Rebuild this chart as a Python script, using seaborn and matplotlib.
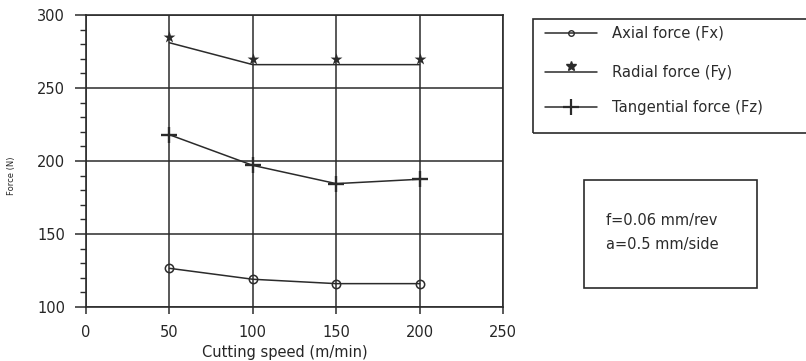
import numpy as np
import pandas as pd
import seaborn as sns
import matplotlib.pyplot as plt
from matplotlib.lines import Line2D
from matplotlib.ticker import MultipleLocator

# Data
speed = [50, 100, 150, 200]
axial = [126.5, 119, 116, 116]
radial_pts = [285, 270, 270, 270]
radial_line = [281, 266, 266, 266]
tangential = [218, 197, 184.5, 187.5]
labels = ["Axial force (Fx)", "Radial force (Fy)", "Tangential force (Fz)"]

sns.set_style("white")
plt.rcParams['font.family'] = ['DejaVu Sans']

ink = "#2b2b2b"
W, H = 806, 361
fig = plt.figure(figsize=(8.06, 3.61), dpi=100)
ax = fig.add_axes([86 / W, 1 - 307 / H, (503 - 86) / W, (307 - 15) / H])

df = pd.DataFrame({"speed": speed, "axial": axial, "radial_pts": radial_pts,
                   "radial_line": radial_line, "tangential": tangential})

sns.lineplot(data=df, x="speed", y="axial", ax=ax, color=ink, lw=1.1,
             marker="o", markersize=6, markerfacecolor="none",
             markeredgecolor=ink, markeredgewidth=1.1)
sns.lineplot(data=df, x="speed", y="radial_line", ax=ax, color=ink, lw=1.1)
sns.scatterplot(data=df, x="speed", y="radial_pts", ax=ax, color=ink,
                marker="*", s=80, linewidth=0)
sns.lineplot(data=df, x="speed", y="tangential", ax=ax, color=ink, lw=1.1,
             marker="+", markersize=11, markeredgewidth=1.7, markeredgecolor=ink)

ax.set_xlim(0, 250)
ax.set_ylim(100, 300)
ax.set_xticks([0, 50, 100, 150, 200, 250])
ax.set_yticks([100, 150, 200, 250, 300])
ax.yaxis.set_minor_locator(MultipleLocator(10))
ax.grid(True, which="major", color=ink, lw=1.1)
for s in ax.spines.values():
    s.set_color(ink)
    s.set_linewidth(1.2)
ax.tick_params(axis="y", which="major", direction="out", length=8, width=1.1,
               color=ink, labelsize=10.5, left=True, pad=7)
ax.tick_params(axis="y", which="minor", direction="out", length=4, width=1,
               color=ink, left=True)
ax.tick_params(axis="x", which="major", direction="out", length=5, width=1.1,
               color=ink, labelsize=10.5, bottom=True, pad=8)
ax.set_xlabel("Cutting speed (m/min)", fontsize=10.5)
ax.xaxis.set_label_coords((285 - 86) / 417, -(352 - 307) / 292)
ax.xaxis.label.set_va("center")
ax.set_ylabel("Force (N)", fontsize=6)
ax.yaxis.set_label_coords(-(86 - 12) / 417, (307 - 176) / 292)
ax.yaxis.label.set_va("center")

# legend box, drawn by hand so it matches the scanned layout
fig.patches.append(plt.Rectangle((533 / W, 1 - 133 / H), (812 - 533) / W, (133 - 19) / H,
                                 transform=fig.transFigure, fill=False,
                                 edgecolor=ink, lw=1.2))
rows = [33, 72, 107]
styles = [dict(marker="o", markersize=4, markerfacecolor="none", markeredgecolor=ink),
          dict(marker="*", markersize=7),
          dict(marker="+", markersize=12, markeredgewidth=1.6)]
for yy, lab, st in zip(rows, labels, styles):
    yf = 1 - yy / H
    fig.add_artist(Line2D([545 / W, 597 / W], [yf, yf], transform=fig.transFigure,
                          color=ink, lw=1.1))
    mk_y = yf + (6 / H if st["marker"] == "*" else 0)
    fig.add_artist(Line2D([571 / W], [mk_y], transform=fig.transFigure,
                          color=ink, lw=0, **st))
    fig.text(612 / W, yf, lab, fontsize=10.6, va="center", color=ink)

# conditions box
fig.patches.append(plt.Rectangle((584 / W, 1 - 288 / H), (757 - 584) / W, (288 - 180) / H,
                                 transform=fig.transFigure, fill=False,
                                 edgecolor=ink, lw=1.2))
fig.text(606 / W, 1 - 221 / H, "f=0.06 mm/rev", fontsize=10.5, va="center", color=ink)
fig.text(606 / W, 1 - 245 / H, "a=0.5 mm/side", fontsize=10.5, va="center", color=ink)

fig.savefig("out.png", dpi=100)
